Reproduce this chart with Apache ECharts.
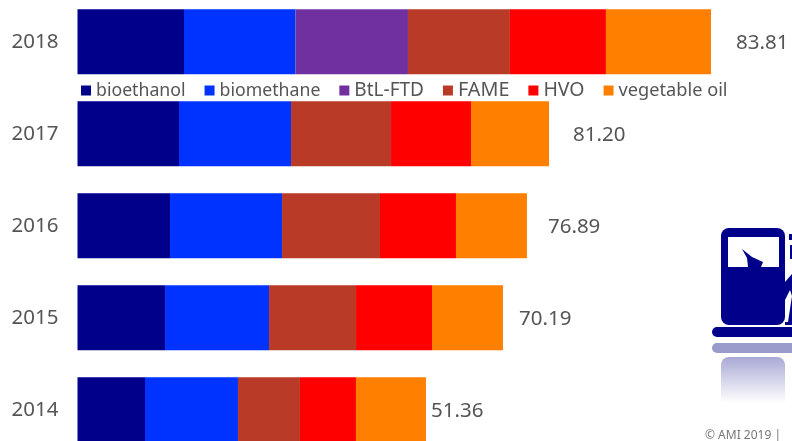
<!DOCTYPE html>
<html>
<head>
<meta charset="utf-8">
<style>
html,body{margin:0;padding:0;background:#fff;overflow:hidden;}
#main{width:792px;height:441px;}
</style>
<script src="https://cdn.jsdelivr.net/npm/echarts@6/dist/echarts.min.js"></script>
</head>
<body>
<div id="main"></div>
<script>
// years top to bottom
var years = ['2018','2017','2016','2015','2014'];
var totals = ['83.81','81.20','76.89','70.19','51.36'];
// segment lengths (bars are not to scale with the printed totals)
var bioethanol = [14.09,13.43,12.24,11.58,8.93];
var biomethane = [14.75,14.82,14.82,13.76,12.30];
var btl_ftd = [14.88,0,0,0,0];
var fame = [13.49,13.23,12.96,11.51,8.20];
var hvo = [12.70,10.58,10.05,10.05,7.41];
var vegetable_oil = [13.90,10.32,9.39,9.39,9.26];

var label_gaps = [25,24,21,16,5];
var colors = ['#00008b','#0033ff','#7030a0','#b93a26','#ff0000','#ff7f00'];
var font = '"Noto Sans", sans-serif';

function seg(name,arr,color){
	return {
		name:name,
		type:'bar',
		stack:'total',
		barWidth:65,
		itemStyle:{color:color},
		data:arr.map(function(v){ return v === 0 ? null : v; })
	};
}

var series = [
	seg('bioethanol',bioethanol,colors[0]),
	seg('biomethane',biomethane,colors[1]),
	seg('BtL-FTD',btl_ftd,colors[2]),
	seg('FAME',fame,colors[3]),
	seg('HVO',hvo,colors[4]),
	seg('vegetable oil',vegetable_oil,colors[5])
];
// totals sit to the right of the last segment
series[5].data = vegetable_oil.map(function(v,i){
	return {
		value:v,
		label:{
			show:true,
			position:'right',
			distance:label_gaps[i],
			offset:[0,1],
			formatter:totals[i],
			color:'#555',
			fontFamily:font,
			fontSize:20.5
		}
	};
});

var chart = echarts.init(document.getElementById('main'),null,{renderer:'canvas'});
chart.setOption({
	animation:false,
	backgroundColor:'#fff',
	grid:{left:77.5,top:-4.3,width:633.5,height:460,outerBoundsMode:'none'},
	legend:{
		left:81,
		top:80.5,
		padding:0,
		icon:'rect',
		itemWidth:10,
		itemHeight:10,
		itemGap:19,
		// capitals run wider in the reference than in Noto Sans
		data:[
			{name:'bioethanol'},
			{name:'biomethane'},
			{name:'BtL-FTD',textStyle:{fontSize:19}},
			{name:'FAME',textStyle:{fontSize:19.8}},
			{name:'HVO',textStyle:{fontSize:19.5}},
			{name:'vegetable oil',textStyle:{fontSize:18.2}}
		],
		textStyle:{color:'#555',fontFamily:font,fontSize:17.7}
	},
	xAxis:{type:'value',min:0,max:83.81,show:false},
	yAxis:{
		type:'category',
		inverse:true,
		data:years,
		axisLine:{show:false},
		axisTick:{show:false},
		axisLabel:{color:'#555',fontFamily:font,fontSize:20.5,margin:19,padding:[4,0,0,0]}
	},
	series:series,
	graphic:[
		// fuel pump icon, cut off by the right edge
		{type:'rect',shape:{x:721,y:357,width:64,height:46,r:[8,8,0,0]},style:{fill:new echarts.graphic.LinearGradient(0,0,0,1,[{offset:0,color:'#a9a9d6'},{offset:1,color:'#ffffff'}])}},
		{type:'rect',shape:{x:712,y:343,width:84,height:10,r:5},style:{fill:'#9a9acb'}},
		{type:'polygon',shape:{points:[[785,282],[792,274],[792,325],[785,325]]},style:{fill:'#00008b'}},
		{type:'polygon',shape:{points:[[785,300],[790,290],[792,296],[788,322],[785,322]]},style:{fill:'#fff'}},
		{type:'rect',shape:{x:721,y:228,width:64,height:97,r:8},style:{fill:'#00008b'}},
		{type:'rect',shape:{x:728,y:237,width:51,height:30},style:{fill:'#fff'}},
		{type:'polygon',shape:{points:[[742,249],[752,257],[763,262],[761,267],[748,267],[747,258]]},style:{fill:'#00008b'}},
		{type:'rect',shape:{x:712,y:327,width:84,height:10,r:5},style:{fill:'#00008b'}},
		{type:'rect',shape:{x:789,y:234,width:3,height:6},style:{fill:'#00008b'}},
		{type:'rect',shape:{x:790,y:245,width:2,height:14},style:{fill:'#00008b'}},
		{type:'text',style:{x:705,y:430,text:'© AMI 2019 |',fill:'#777',font:'12px '+font}}
	]
});
</script>
</body>
</html>
